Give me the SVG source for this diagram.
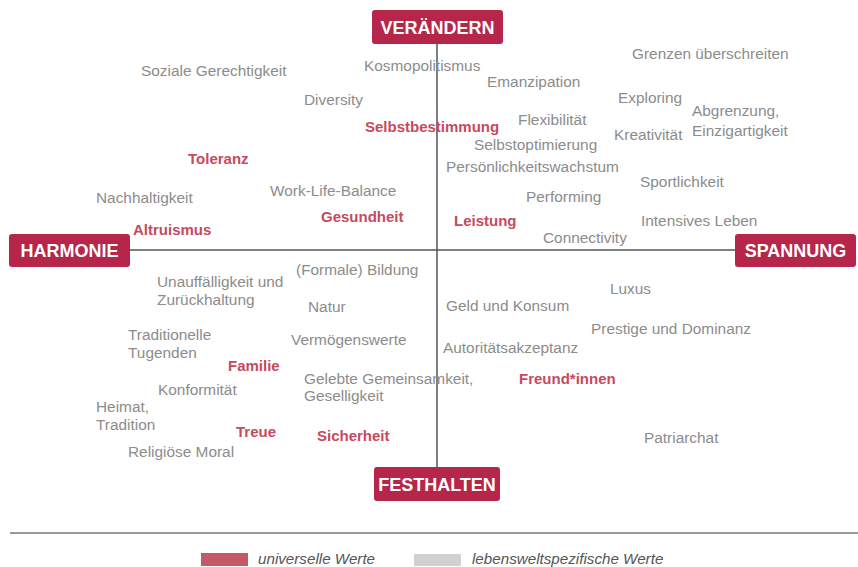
<svg xmlns="http://www.w3.org/2000/svg" width="858" height="567" viewBox="0 0 858 567">
<style>
.g{font-family:"Liberation Sans",Arial,sans-serif;font-size:15.4px;fill:#8c8c8c}
.r{font-family:"Liberation Sans",Arial,sans-serif;font-size:15px;font-weight:bold;fill:#c64a5e}
.box{fill:#b5264a}
.bt{font-family:"Liberation Sans",Arial,sans-serif;font-size:18px;font-weight:bold;fill:#fff;text-anchor:middle}
.ax{stroke:#555;stroke-width:1.5;fill:none}
.lg{font-family:"Liberation Sans",Arial,sans-serif;font-size:15.2px;font-style:italic;fill:#555}
</style>
<rect width="858" height="567" fill="#fff"/>
<g id="connectors">
<line class="ax" x1="437" y1="44" x2="437" y2="467"/>
<line class="ax" x1="130" y1="250" x2="735" y2="250"/>
<line x1="10" y1="533" x2="858" y2="533" stroke="#777" stroke-width="1.5"/>
</g>
<g id="veraendern"><rect class="box" x="372" y="10" width="131" height="34" rx="3"/><text class="bt" x="437.5" y="33.5">VERÄNDERN</text></g>
<g id="harmonie"><rect class="box" x="9" y="234" width="121" height="33" rx="3"/><text class="bt" x="69.5" y="257">HARMONIE</text></g>
<g id="spannung"><rect class="box" x="735" y="234" width="121" height="33" rx="3"/><text class="bt" x="795.5" y="257">SPANNUNG</text></g>
<g id="festhalten"><rect class="box" x="374" y="467" width="126" height="34" rx="3"/><text class="bt" x="437" y="490.5">FESTHALTEN</text></g>
<g id="values">
<text class="g" x="141" y="76">Soziale Gerechtigkeit</text>
<text class="g" x="364" y="71">Kosmopolitismus</text>
<text class="g" x="632" y="59">Grenzen überschreiten</text>
<text class="g" x="487" y="87">Emanzipation</text>
<text class="g" x="304" y="105">Diversity</text>
<text class="g" x="618" y="103">Exploring</text>
<text class="g" x="692" y="116">Abgrenzung,</text>
<text class="g" x="692" y="136">Einzigartigkeit</text>
<text class="g" x="518" y="125">Flexibilität</text>
<text class="r" x="365" y="132">Selbstbestimmung</text>
<text class="g" x="614" y="140">Kreativität</text>
<text class="g" x="474" y="150">Selbstoptimierung</text>
<text class="r" x="188" y="164">Toleranz</text>
<text class="g" x="446" y="172">Persönlichkeitswachstum</text>
<text class="g" x="640" y="187">Sportlichkeit</text>
<text class="g" x="270" y="196">Work-Life-Balance</text>
<text class="g" x="96" y="203">Nachhaltigkeit</text>
<text class="g" x="526" y="202">Performing</text>
<text class="r" x="321" y="222">Gesundheit</text>
<text class="r" x="454" y="226">Leistung</text>
<text class="g" x="641" y="226">Intensives Leben</text>
<text class="r" x="133" y="235">Altruismus</text>
<text class="g" x="543" y="243">Connectivity</text>
<text class="g" x="157" y="287">Unauffälligkeit und</text>
<text class="g" x="157" y="305">Zurückhaltung</text>
<text class="g" x="296" y="275">(Formale) Bildung</text>
<text class="g" x="610" y="294">Luxus</text>
<text class="g" x="308" y="312">Natur</text>
<text class="g" x="446" y="311">Geld und Konsum</text>
<text class="g" x="128" y="340">Traditionelle</text>
<text class="g" x="128" y="358">Tugenden</text>
<text class="g" x="591" y="334">Prestige und Dominanz</text>
<text class="g" x="291" y="345">Vermögenswerte</text>
<text class="g" x="443" y="353">Autoritätsakzeptanz</text>
<text class="r" x="228" y="371">Familie</text>
<text class="r" x="519" y="384">Freund*innen</text>
<text class="g" x="304" y="384">Gelebte Gemeinsamkeit,</text>
<text class="g" x="304" y="401">Geselligkeit</text>
<text class="g" x="158" y="395">Konformität</text>
<text class="g" x="96" y="412">Heimat,</text>
<text class="g" x="96" y="430">Tradition</text>
<text class="r" x="236" y="437">Treue</text>
<text class="r" x="317" y="441">Sicherheit</text>
<text class="g" x="644" y="443">Patriarchat</text>
<text class="g" x="128" y="457">Religiöse Moral</text>
</g>
<g id="legend">
<rect x="201" y="553" width="47" height="13" fill="#c45a65"/>
<text class="lg" x="258" y="563.5">universelle Werte</text>
<rect x="414" y="554" width="47" height="12" fill="#d1d1d3"/>
<text class="lg" x="472" y="563.5">lebensweltspezifische Werte</text>
</g>
</svg>
